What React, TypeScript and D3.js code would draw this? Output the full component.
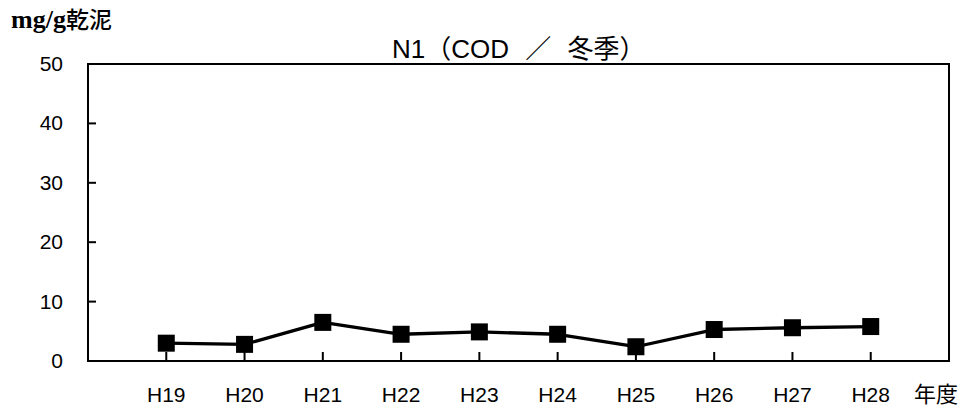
import React from "react";
import * as d3 from "d3";

const categories = ["H19", "H20", "H21", "H22", "H23", "H24", "H25", "H26", "H27", "H28"];
const values = [3.0, 2.8, 6.5, 4.5, 4.9, 4.5, 2.4, 5.3, 5.6, 5.8];
const yTicks = [0, 10, 20, 30, 40, 50];
const title = "N1（COD ／ 冬季）";
const yUnitLatin = "mg/g";
const yUnitCjk = "乾泥";
const xUnit = "年度";

const W = 965;
const H = 414;
const left = 88;
const right = 949;
const top = 64;
const bottom = 361;

export default function App() {
  const x = d3.scaleLinear().domain([0, categories.length + 1]).range([left, right]);
  const y = d3.scaleLinear().domain([0, 50]).range([bottom, top]);
  const line = d3
    .line<number>()
    .x((_, i) => x(i + 1))
    .y((d) => y(d));
  const sans = "'Liberation Sans', Arial, 'Noto Sans CJK JP', sans-serif";
  const cjk = "'Noto Sans CJK JP', sans-serif";
  return (
    <svg
      width={W}
      height={H}
      style={{ position: "absolute", left: 0, top: 0, background: "#fff" }}
    >
      <rect x={0} y={0} width={W} height={H} fill="#fff" />
      <text x={11} y={28} fill="#000">
        <tspan fontFamily="'Liberation Serif', serif" fontWeight="bold" fontSize={26}>
          {yUnitLatin}
        </tspan>
        <tspan fontFamily={cjk} fontWeight={500} fontSize={23}>
          {yUnitCjk}
        </tspan>
      </text>
      <text
        x={392}
        y={58}
        textAnchor="start"
        fontFamily={sans}
        fontSize={26}
        fill="#000"
        style={{ wordSpacing: "9px" }}
      >
        {title}
      </text>
      <rect x={left} y={top} width={right - left} height={bottom - top} fill="none" stroke="#000" strokeWidth={2} />
      {yTicks.map((t) => (
        <g key={t}>
          <line x1={left} x2={left + 8} y1={y(t)} y2={y(t)} stroke="#000" strokeWidth={2} />
          <text x={63} y={y(t) + 7} textAnchor="end" fontFamily={sans} fontSize={21} fill="#000">
            {t}
          </text>
        </g>
      ))}
      {categories.map((c, i) => (
        <g key={c}>
          <line x1={x(i + 1)} x2={x(i + 1)} y1={bottom} y2={bottom - 9} stroke="#000" strokeWidth={2} />
          <text x={x(i + 1)} y={402} textAnchor="middle" fontFamily={sans} fontSize={21} fill="#000">
            {c}
          </text>
        </g>
      ))}
      <text x={936} y={402} textAnchor="middle" fontFamily={cjk} fontSize={22} fill="#000">
        {xUnit}
      </text>
      <path d={line(values) || ""} fill="none" stroke="#000" strokeWidth={3.3} strokeLinejoin="round" />
      {values.map((v, i) => (
        <rect key={i} x={x(i + 1) - 8.5} y={y(v) - 8.5} width={17} height={17} fill="#000" />
      ))}
    </svg>
  );
}
